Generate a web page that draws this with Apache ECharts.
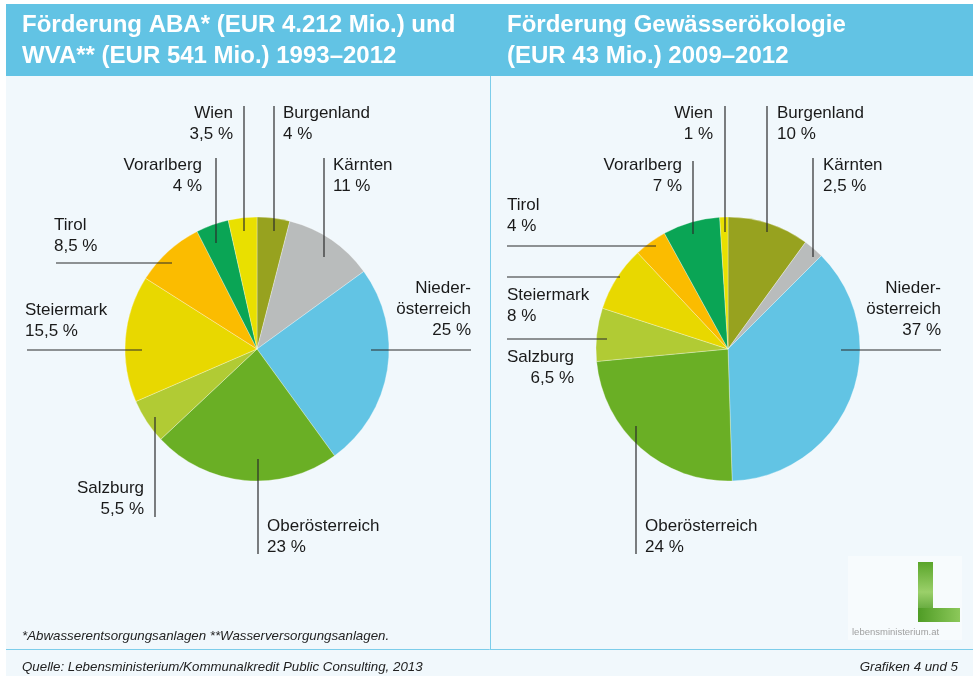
<!DOCTYPE html>
<html>
<head>
<meta charset="utf-8">
<script src="https://cdn.jsdelivr.net/npm/echarts@6/dist/echarts.min.js"></script>
<style>
html,body{margin:0;padding:0;background:#fff;}
#chart{width:978px;height:676px;}
</style>
</head>
<body>
<div id="chart"></div>
<script>
// ---- data ----
const categories = ['Burgenland', 'Kärnten', 'Nieder-\nösterreich', 'Oberösterreich', 'Salzburg', 'Steiermark', 'Tirol', 'Vorarlberg', 'Wien'];
const valuesABA = [4, 11, 25, 23, 5.5, 15.5, 8.5, 4, 3.5];
const valuesGewaesser = [10, 2.5, 37, 24, 6.5, 8, 4, 7, 1];
const titleLeft = 'Förderung ABA* (EUR 4.212 Mio.) und\nWVA** (EUR 541 Mio.) 1993–2012';
const titleRight = 'Förderung Gewässerökologie\n(EUR 43 Mio.) 2009–2012';
const footnote = '*Abwasserentsorgungsanlagen **Wasserversorgungsanlagen.';
const source = 'Quelle: Lebensministerium/Kommunalkredit Public Consulting, 2013';
const graphNote = 'Grafiken 4 und 5';

// ---- styles / layout ----
const sliceColors = ['#97a21f', '#b9bcbc', '#62c4e4', '#6aaf25', '#b1cb34', '#e8d800', '#fbbc00', '#0aa555', '#e9e000'];
const headerBlue = '#62c3e4';
const panelBg = '#f1f8fc';
const FONT = '"Liberation Sans", Arial, Helvetica, sans-serif';

// label placement: [x, top, align, line points]
function V(x, y1, y2) { return [[x, y1], [x, y1], [x, y2]]; }
function H(y, x1, x2) { return [[x1, y], [x1, y], [x2, y]]; }
const labelPlacement = [
  [
    [283, 102.5, 'left', V(274, 106, 231)],
    [333, 154.5, 'left', V(324, 158, 257)],
    [471, 277.5, 'right', H(350, 471, 371)],
    [267, 515.5, 'left', V(258, 554, 459)],
    [144, 477.5, 'right', V(155, 517, 417)],
    [25, 299.5, 'left', H(350, 27, 142)],
    [54, 214.5, 'left', H(263, 56, 172)],
    [202, 154.5, 'right', V(216, 158, 243)],
    [233, 102.5, 'right', V(244, 106, 231)]
  ],
  [
    [777, 102.5, 'left', V(767, 106, 232)],
    [823, 154.5, 'left', V(813, 158, 257)],
    [941, 277.5, 'right', H(350, 941, 841)],
    [645, 515.5, 'left', V(636, 554, 426)],
    [574, 346.5, 'right', H(339, 507, 607)],
    [507, 284.5, 'left', H(277, 507, 620)],
    [507, 194.5, 'left', H(246, 507, 656)],
    [682, 154.5, 'right', V(693, 161, 234)],
    [713, 102.5, 'right', V(725, 106, 232)]
  ]
];

function fmt(v) { return String(v).replace('.', ',') + ' %'; }
function pieData(vals, transparent) {
  return categories.map((c, i) => ({
    name: c, value: vals[i],
    itemStyle: { color: transparent ? 'rgba(0,0,0,0)' : sliceColors[i] }
  }));
}
// slices
function pieSlices(vals, center) {
  return {
    type: 'pie', center: center, radius: 132, startAngle: 90, clockwise: true,
    animation: false, silent: true, z: 2,
    data: pieData(vals, false),
    itemStyle: { borderColor: 'rgba(255,255,255,0.6)', borderWidth: 0.5 },
    label: { show: false }, labelLine: { show: false }
  };
}
// labels + leader lines drawn on top of slices
function pieLabels(vals, center, idx) {
  return {
    type: 'pie', center: center, radius: 132, startAngle: 90, clockwise: true,
    animation: false, silent: true, z: 5,
    data: pieData(vals, true),
    itemStyle: { borderWidth: 0 },
    label: {
      show: true,
      formatter: p => p.name + '\n' + fmt(p.value),
      fontFamily: FONT, fontSize: 17, lineHeight: 21, color: '#1a1a1a',
      overflow: 'none'
    },
    labelLine: { show: true, lineStyle: { color: '#2b2b2b', width: 1.2 } },
    labelLayout: function (params) {
      const c = labelPlacement[idx][params.dataIndex];
      return { x: c[0], y: c[1], align: c[2], verticalAlign: 'top', width: 200, labelLinePoints: c[3] };
    }
  };
}

const chart = echarts.init(document.getElementById('chart'), null, { renderer: 'canvas' });
chart.setOption({
  backgroundColor: '#ffffff',
  animation: false,
  graphic: [
    { type: 'rect', z: -10, shape: { x: 6, y: 4, width: 967, height: 672 }, style: { fill: panelBg } },
    { type: 'rect', z: -5, shape: { x: 6, y: 4, width: 484, height: 72 }, style: { fill: headerBlue } },
    { type: 'rect', z: -5, shape: { x: 490, y: 4, width: 483, height: 72 }, style: { fill: headerBlue } },
    { type: 'line', z: -5, shape: { x1: 490.5, y1: 76, x2: 490.5, y2: 650 }, style: { stroke: '#7dcdea', lineWidth: 1 } },
    { type: 'line', z: -5, shape: { x1: 6, y1: 649.5, x2: 973, y2: 649.5 }, style: { stroke: '#7dcdea', lineWidth: 1 } },
    { type: 'text', style: { x: 22, y: 636, text: footnote, font: 'italic 13.3px ' + FONT, fill: '#222', verticalAlign: 'middle' } },
    { type: 'text', style: { x: 22, y: 667, text: source, font: 'italic 13.3px ' + FONT, fill: '#222', verticalAlign: 'middle' } },
    { type: 'text', style: { x: 958, y: 667, text: graphNote, font: 'italic 13.3px ' + FONT, fill: '#222', align: 'right', verticalAlign: 'middle' } },
    // logo
    { type: 'rect', z: -4, shape: { x: 848, y: 556, width: 114, height: 84 }, style: { fill: '#f7fbfd' } },
    { type: 'rect', shape: { x: 918, y: 562, width: 15, height: 60 },
      style: { fill: new echarts.graphic.LinearGradient(0, 0, 0, 1, [{ offset: 0, color: '#5aa52a' }, { offset: 0.5, color: '#9bd06a' }, { offset: 1, color: '#3f8f1e' }]) } },
    { type: 'rect', shape: { x: 918, y: 608, width: 42, height: 14 },
      style: { fill: new echarts.graphic.LinearGradient(0, 0, 1, 0, [{ offset: 0, color: '#4f9c25' }, { offset: 1, color: '#8cc85a' }]) } },
    { type: 'text', style: { x: 852, y: 632, text: 'lebensministerium.at', font: '9.5px ' + FONT, fill: '#a0a0a0', verticalAlign: 'middle' } }
  ],
  title: [
    { text: titleLeft, left: 22, top: 10, padding: 0,
      textStyle: { color: '#ffffff', fontFamily: FONT, fontWeight: 'bold', fontSize: 24, lineHeight: 31 } },
    { text: titleRight, left: 507, top: 10, padding: 0,
      textStyle: { color: '#ffffff', fontFamily: FONT, fontWeight: 'bold', fontSize: 24, lineHeight: 31 } }
  ],
  series: [
    pieSlices(valuesABA, [257, 349]),
    pieSlices(valuesGewaesser, [728, 349]),
    pieLabels(valuesABA, [257, 349], 0),
    pieLabels(valuesGewaesser, [728, 349], 1)
  ]
});
</script>
</body>
</html>
